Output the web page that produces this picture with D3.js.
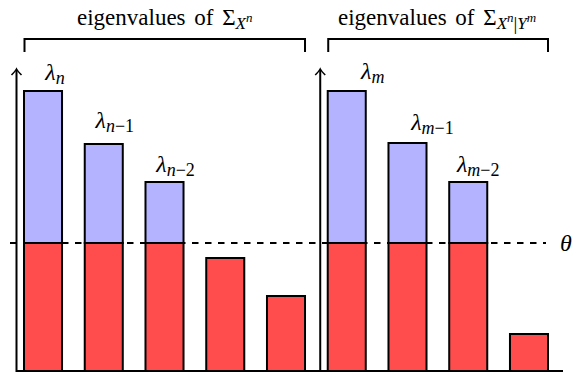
<!DOCTYPE html>
<html>
<head>
<script src="https://d3js.org/d3.v7.min.js"></script>
<style>
  body { margin: 0; background: #fff; }
</style>
</head>
<body>
<div id="chart"></div>
<script>
// eigenvalues of the two covariance matrices (arbitrary units)
var leftValues = [280, 227, 189, 113, 75];
var rightValues = [280, 228, 189, 37];
var theta = 128;
var leftSubs = ["n", "n−1", "n−2", null, null];
var rightSubs = ["m", "m−1", "m−2", null];

// label nudges (layout only)
var labelDx = [12, 11, 11, 0, 0, 26, 25, 10, 0];
var labelDy = [11, 16, 10, 0, 0, 12, 13, 10, 0];

var width = 587, height = 380;
var blue = "#b3b3ff", red = "#ff4d4d";

var svg = d3.select("#chart").append("svg")
  .attr("width", width)
  .attr("height", height);

var bars = leftValues.map(function(v, i) {
  return { panel: 0, value: v, sub: leftSubs[i] };
}).concat(rightValues.map(function(v, i) {
  return { panel: 1, value: v, sub: rightSubs[i] };
}));
bars.forEach(function(d, i) { d.i = i; });

var x = d3.scaleBand()
  .domain(d3.range(bars.length))
  .range([24, 548])
  .paddingInner(0.374)
  .paddingOuter(0);

var y = d3.scaleLinear().domain([0, 300]).range([371, 71]);

// bars: red part up to theta, blue part above
var g = svg.selectAll(".bar").data(bars).enter().append("g").attr("class", "bar");

g.append("rect")
  .attr("x", function(d) { return x(d.i); })
  .attr("width", x.bandwidth())
  .attr("y", function(d) { return y(Math.min(d.value, theta)); })
  .attr("height", function(d) { return y(0) - y(Math.min(d.value, theta)); })
  .attr("fill", red)
  .attr("stroke", "#000")
  .attr("stroke-width", 2);

g.filter(function(d) { return d.value > theta; })
  .append("rect")
  .attr("x", function(d) { return x(d.i); })
  .attr("width", x.bandwidth())
  .attr("y", function(d) { return y(d.value); })
  .attr("height", function(d) { return y(theta) - y(d.value); })
  .attr("fill", blue)
  .attr("stroke", "#000")
  .attr("stroke-width", 2);

// threshold line
svg.append("line")
  .attr("x1", 10).attr("x2", 546)
  .attr("y1", y(theta)).attr("y2", y(theta))
  .attr("stroke", "#000")
  .attr("stroke-width", 2)
  .attr("stroke-dasharray", "6.5,6.5");

svg.append("text")
  .attr("x", 566).attr("y", y(theta) + 8)
  .attr("text-anchor", "middle")
  .style("font-family", "Times")
  .style("font-style", "italic")
  .style("font-size", "24px")
  .text("θ");

// axes
var baseY = y(0);
svg.append("line")
  .attr("x1", x(0) - 8).attr("x2", 563)
  .attr("y1", baseY).attr("y2", baseY)
  .attr("stroke", "#000").attr("stroke-width", 2);

var axisX = [x(0) - 7.5, x(leftValues.length) - 7.5];
var tipY = y(302);
axisX.forEach(function(ax) {
  svg.append("line")
    .attr("x1", ax).attr("x2", ax)
    .attr("y1", baseY + 1).attr("y2", tipY + 1)
    .attr("stroke", "#000").attr("stroke-width", 2);
  svg.append("path")
    .attr("d", "M" + (ax - 5) + "," + (tipY + 6) + " Q" + (ax - 1) + "," + (tipY + 2) + " " + ax + "," + tipY +
      " Q" + (ax + 1) + "," + (tipY + 2) + " " + (ax + 5) + "," + (tipY + 6))
    .attr("fill", "none")
    .attr("stroke", "#000").attr("stroke-width", 1.6);
});

// eigenvalue labels
var lab = svg.selectAll(".lab").data(bars.filter(function(d) { return d.sub; }))
  .enter().append("text")
  .attr("class", "lab")
  .style("font-family", "Times")
  .attr("x", function(d) { return x(d.i) + x.bandwidth() / 2 + labelDx[d.i]; })
  .attr("y", function(d) { return y(d.value) - labelDy[d.i]; })
  .attr("text-anchor", "middle");
lab.append("tspan").style("font-style", "italic").style("font-size", "24px").text("λ");
lab.append("tspan").style("font-style", "italic").style("font-size", "18px").attr("dy", 4)
  .text(function(d) { return d.sub.charAt(0); });
lab.append("tspan").style("font-size", "18px")
  .text(function(d) { return d.sub.slice(1); });

// brackets with titles
var panels = [
  { from: 0, to: leftValues.length - 1 },
  { from: leftValues.length, to: bars.length - 1 }
];
panels.forEach(function(p, k) {
  var x0 = x(p.from) + 0.5, x1 = x(p.to) + x.bandwidth();
  svg.append("path")
    .attr("d", "M" + x0 + ",52 V39 H" + x1 + " V52")
    .attr("fill", "none")
    .attr("stroke", "#000").attr("stroke-width", 2);

  var t = svg.append("text")
    .attr("x", (x0 + x1) / 2 + (k == 0 ? 0 : -1))
    .attr("y", 25)
    .attr("text-anchor", "middle")
    .style("font-family", "Times")
    .style("font-size", "23px")
    .style("word-spacing", "3px");
  t.append("tspan").text("eigenvalues of Σ");
  t.append("tspan").style("font-style", "italic").style("font-size", "17px").attr("dy", 4).text("X");
  t.append("tspan").style("font-style", "italic").style("font-size", "13px").attr("dy", -7).text("n");
  if (k == 1) {
    t.append("tspan").style("font-size", "19px").attr("dy", 8).text("|");
    t.append("tspan").style("font-style", "italic").style("font-size", "17px").attr("dy", -1).text("Y");
    t.append("tspan").style("font-style", "italic").style("font-size", "13px").attr("dy", -7).text("m");
  }
});
</script>
</body>
</html>
